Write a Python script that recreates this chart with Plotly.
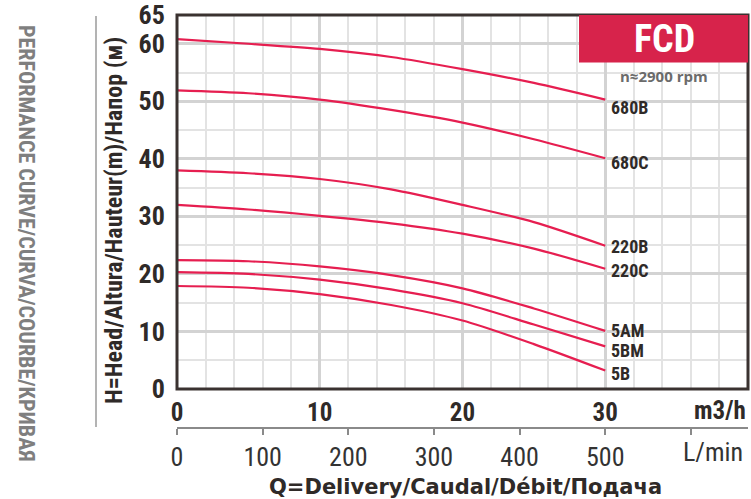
import plotly.graph_objects as go

# ---- data ----
flow_m3h = [0, 5, 10, 15, 20, 25, 30]
series_names = ["680B", "680C", "220B", "220C", "5AM", "5BM", "5B"]
head_680B = [60.8, 60.0, 59.1, 57.7, 55.6, 53.2, 50.3]
head_680C = [51.9, 51.4, 50.3, 48.5, 46.3, 43.4, 40.1]
head_220B = [38.0, 37.5, 36.5, 34.7, 32.0, 29.0, 24.9]
head_220C = [32.0, 31.2, 30.1, 28.8, 27.0, 24.4, 20.9]
head_5AM = [22.4, 22.2, 21.3, 19.8, 17.5, 14.0, 10.1]
head_5BM = [20.3, 20.0, 19.0, 17.3, 14.9, 11.2, 7.4]
head_5B = [17.9, 17.6, 16.5, 14.6, 11.9, 7.8, 3.2]
label_y = [49.0, 39.3, 24.7, 20.6, 10.1, 6.7, 2.7]

x_ticks = [0, 10, 20, 30]
y_ticks = [0, 10, 20, 30, 40, 50, 60, 65]
lmin_ticks = [0, 100, 200, 300, 400, 500, 600]
lmin_text = ["0", "100", "200", "300", "400", "500", ""]

heads = [head_680B, head_680C, head_220B, head_220C, head_5AM, head_5BM, head_5B]

FONT = "Liberation Sans Narrow, Roboto Condensed, DejaVu Sans Condensed, sans-serif"
WIDE = "Open Sans, Roboto, sans-serif"
TITLE = "DejaVu Sans, Open Sans, sans-serif"
CURVE = "#E61E50"
DARK = "#2f2a28"

W, H = 751, 499
ml, mr, mt, mb = 177, 3, 15, 71
plot_bottom_px = 389
paper_h = H - mt - mb
dom_bottom = (H - mb - plot_bottom_px) / paper_h

fig = go.Figure()
for name, h in zip(series_names, heads):
    fig.add_trace(go.Scatter(x=flow_m3h, y=h, mode="lines", name=name,
                             line=dict(color=CURVE, width=2.2, shape="spline", smoothing=0.8),
                             hoverinfo="skip", showlegend=False))
# dummy trace for the L/min axis
fig.add_trace(go.Scatter(x=[0], y=[None], xaxis="x2", yaxis="y", mode="lines",
                         showlegend=False, hoverinfo="skip"))

for name, ly in zip(series_names, label_y):
    fig.add_annotation(x=30.25, y=ly, text=f"<b>{name}</b>", showarrow=False,
                       xanchor="left", yanchor="middle",
                       font=dict(family=FONT, size=18, color=DARK))

fig.update_layout(
    width=W, height=H,
    margin=dict(l=ml, r=mr, t=mt, b=mb, autoexpand=False),
    paper_bgcolor="white", plot_bgcolor="white",
    font=dict(family=FONT, color=DARK),
    xaxis=dict(range=[0, 40], tickmode="array", tickvals=x_ticks,
               ticktext=[f"<b>{v}</b>" for v in x_ticks],
               tickfont=dict(family=FONT, size=25, color=DARK),
               ticks="outside", ticklen=1, tickcolor="rgba(0,0,0,0)",
               showgrid=True, gridcolor="#d3d3d3", gridwidth=2.6,
               zeroline=False, showline=False, anchor="y", automargin=False,
               minor=dict(tickmode="linear", tick0=0, dtick=2, showgrid=True,
                          gridcolor="#e3e3e3", gridwidth=1.8, ticks="")),
    xaxis2=dict(range=[0, 40 * 1000 / 60], overlaying="x", anchor="free", position=0,
                side="bottom", tickmode="array", tickvals=lmin_ticks, ticktext=lmin_text,
                tickfont=dict(family=FONT, size=26, color="#333333"),
                ticks="outside", ticklen=6, tickwidth=1.5, tickcolor="#8a8a8a",
                showline=True, linecolor="#8a8a8a", linewidth=1.5,
                showgrid=False, zeroline=False, automargin=False),
    yaxis=dict(range=[0, 65], domain=[dom_bottom, 1], tickmode="array", tickvals=y_ticks,
               ticktext=[f"<b>{v}</b>" for v in y_ticks],
               tickfont=dict(family=FONT, size=26, color=DARK),
               ticks="outside", ticklen=6, tickcolor="rgba(0,0,0,0)",
               showgrid=True, gridcolor="#d3d3d3", gridwidth=2.6,
               zeroline=False, showline=False, automargin=False,
               minor=dict(tickmode="linear", tick0=0, dtick=5, showgrid=True,
                          gridcolor="#e3e3e3", gridwidth=1.8, ticks="")),
)

pw = W - ml - mr
def px_x(px):
    return (px - ml) / pw
def px_y(py):
    return (H - mb - py) / paper_h

def note(xpx, ypx, text, size, color, angle=0, xanchor="center", family=FONT):
    fig.add_annotation(xref="paper", yref="paper", x=px_x(xpx), y=px_y(ypx), text=text,
                       showarrow=False, xanchor=xanchor, yanchor="middle", textangle=angle,
                       font=dict(family=family, size=size, color=color))

# plot border
fig.add_shape(type="rect", xref="paper", yref="paper", x0=0, x1=1, y0=dom_bottom, y1=1,
              line=dict(color="#3a3230", width=3), layer="above")
# FCD box
fig.add_shape(type="rect", xref="paper", yref="paper", x0=px_x(579), x1=1,
              y0=px_y(62.5), y1=1, fillcolor="#D7234B", line=dict(width=0), layer="above")
note(664, 39, "<b>FCD</b>", 38, "white")
note(664, 76, "<b>n≈2900 rpm</b>", 15, "#6b6b6b", family=WIDE)
# units
note(748, 410, "<b>m3/h</b>", 25, DARK, xanchor="right")
note(713, 452, "L/min", 26, "#333333")
# axis titles
note(465, 486.5, "<b>Q=Delivery/Caudal/Débit/Подача</b>", 21, DARK, family=TITLE)
note(114, 221, "<b>H=Head/Altura/Hauteur(m)/Напор (м)</b>", 24, DARK, angle=-90)
note(27, 243, "<b>PERFORMANCE CURVE/CURVA/COURBE/КРИВАЯ</b>", 22, "#7f7f7f", angle=90)
fig.add_shape(type="line", xref="paper", yref="paper", x0=px_x(96), x1=px_x(96),
              y0=px_y(16), y1=px_y(427), line=dict(color="#9a9a9a", width=1.5))

fig.write_html("out.html", config={"displayModeBar": False},
               post_script="document.body.style.margin='0';document.body.style.padding='0';")
